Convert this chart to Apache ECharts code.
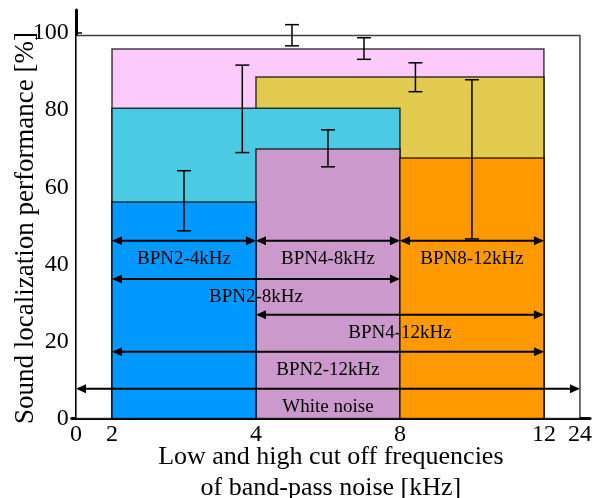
<!DOCTYPE html>
<html>
<head>
    <meta charset="utf-8">
    <script src="https://cdn.jsdelivr.net/npm/echarts@6/dist/echarts.min.js"></script>
    <style>
        body { margin: 0; background: #fff; }
    </style>
</head>

<body>
<div id="main" style="width: 601px;height:498px;"></div>
<script type="text/javascript">
    // x axis: positions on the axis and the frequency shown there
    var tickPos = [0, 1, 5, 9, 13, 14];
    var tickLabels = ['0', '2', '4', '8', '12', '24'];

    // bands, drawn back to front
    var bandNames = ['White noise', 'BPN2-12kHz', 'BPN4-12kHz', 'BPN2-8kHz', 'BPN4-8kHz', 'BPN8-12kHz', 'BPN2-4kHz'];
    var bandLow = [0, 1, 5, 1, 5, 9, 1];
    var bandHigh = [14, 13, 13, 9, 9, 13, 5];
    var perfMean = [99.4, 95.9, 88.6, 80.5, 69.9, 67.6, 56.2];
    var errLow = [96.7, 93.2, 84.8, 69.0, 65.3, 46.6, 48.7];
    var errHigh = [102.2, 98.8, 92.3, 91.7, 74.9, 87.9, 64.3];
    var errPos = [6, 8, 9.43, 4.62, 7, 11, 3];
    // arrow rows and band label rows (in %)
    var arrowY = [7.7, 17.3, 26.9, 36.2, 46.1, 46.1, 46.1];
    var labelY = [3.1, 12.6, 22.3, 31.5, 41.4, 41.4, 41.4];

    var bandColors = ['#ffffff', '#fccbfc', '#e3cb4f', '#4bcae4', '#cc99cc', '#ff9900', '#0099ff'];
    var FONT = 'Liberation Serif';

    var myChart = echarts.init(document.getElementById('main'));

    var rectData = bandNames.map(function (n, i) { return [bandLow[i], bandHigh[i], perfMean[i], i]; });
    var errData = bandNames.map(function (n, i) { return [errPos[i], errLow[i], errHigh[i]]; });
    var arrowData = bandNames.map(function (n, i) { return [bandLow[i], bandHigh[i], arrowY[i], labelY[i], i]; });

    var option = {
        animation: false,
        grid: { left: 71.7, right: 11, top: 10, bottom: 79.5, containLabel: false, outerBoundsMode: 'none' },
        // y axis title
        graphic: [{
            type: 'text', x: 26, y: 228, rotation: Math.PI / 2,
            style: { text: 'Sound localization performance [%]', fill: '#000',
                font: '27px "' + FONT + '"', align: 'center', verticalAlign: 'middle' }
        }],
        xAxis: {
            type: 'value', min: -0.12, max: 14.28,
            splitLine: { show: false },
            axisLine: { lineStyle: { color: '#000', width: 3 } },
            axisTick: { show: false },
            axisLabel: {
                customValues: tickPos,
                formatter: function (v) { return tickLabels[tickPos.indexOf(v)]; },
                color: '#000', fontFamily: FONT, fontSize: 24, margin: 4
            },
            name: 'Low and high cut off frequencies\nof band-pass noise [kHz]',
            nameLocation: 'middle', nameGap: 23, nameMoveOverlap: false,
            nameTextStyle: { color: '#000', fontFamily: FONT, fontSize: 26, lineHeight: 31 }
        },
        yAxis: {
            type: 'value', min: 0, max: 106,
            splitLine: { show: false },
            axisLine: { lineStyle: { color: '#000', width: 3 } },
            axisTick: { inside: true, length: 6, customValues: [0, 10, 20, 30, 40, 50, 60, 70, 80, 90, 100],
                lineStyle: { color: '#000', width: 1.5 } },
            axisLabel: { customValues: [0, 20, 40, 60, 80, 100], color: '#000', fontFamily: FONT, fontSize: 24, margin: 3 }
        },
        series: [{
            type: 'custom',
            data: rectData,
            encode: { x: [0, 1], y: 2 },
            renderItem: function (params, api) {
                var p0 = api.coord([api.value(0), api.value(2)]);
                var p1 = api.coord([api.value(1), 0]);
                return {
                    type: 'rect',
                    shape: { x: p0[0], y: p0[1], width: p1[0] - p0[0], height: p1[1] - p0[1] },
                    style: { fill: bandColors[api.value(3)], stroke: 'rgba(0,0,0,0.75)', lineWidth: 1.5 }
                };
            }
        }, {
            type: 'custom',
            data: errData,
            encode: { x: 0, y: [1, 2] },
            z: 3,
            renderItem: function (params, api) {
                var lo = api.coord([api.value(0), api.value(1)]);
                var hi = api.coord([api.value(0), api.value(2)]);
                var st = { stroke: '#000', lineWidth: 1.5 };
                return {
                    type: 'group',
                    children: [
                        { type: 'line', shape: { x1: lo[0], y1: lo[1], x2: hi[0], y2: hi[1] }, style: st },
                        { type: 'line', shape: { x1: lo[0] - 7, y1: lo[1], x2: lo[0] + 7, y2: lo[1] }, style: st },
                        { type: 'line', shape: { x1: hi[0] - 7, y1: hi[1], x2: hi[0] + 7, y2: hi[1] }, style: st }
                    ]
                };
            }
        }, {
            type: 'custom',
            data: arrowData,
            encode: { x: [0, 1], y: 2 },
            z: 4,
            renderItem: function (params, api) {
                var a = api.coord([api.value(0), api.value(2)]);
                var b = api.coord([api.value(1), api.value(2)]);
                var t = api.coord([(api.value(0) + api.value(1)) / 2, api.value(3)]);
                var L = 10, W = 4.5;
                return {
                    type: 'group',
                    children: [
                        { type: 'line', shape: { x1: a[0] + 2, y1: a[1], x2: b[0] - 2, y2: b[1] }, style: { stroke: '#000', lineWidth: 2 } },
                        { type: 'polygon', shape: { points: [[a[0], a[1]], [a[0] + L, a[1] - W], [a[0] + L, a[1] + W]] }, style: { fill: '#000' } },
                        { type: 'polygon', shape: { points: [[b[0], b[1]], [b[0] - L, b[1] - W], [b[0] - L, b[1] + W]] }, style: { fill: '#000' } },
                        { type: 'text', x: t[0], y: t[1], style: { text: bandNames[api.value(4)], fill: '#000',
                            font: '19px "' + FONT + '"', align: 'center', verticalAlign: 'middle' } }
                    ]
                };
            }
        }]
    };

    myChart.setOption(option);
</script>
</body>
</html>
